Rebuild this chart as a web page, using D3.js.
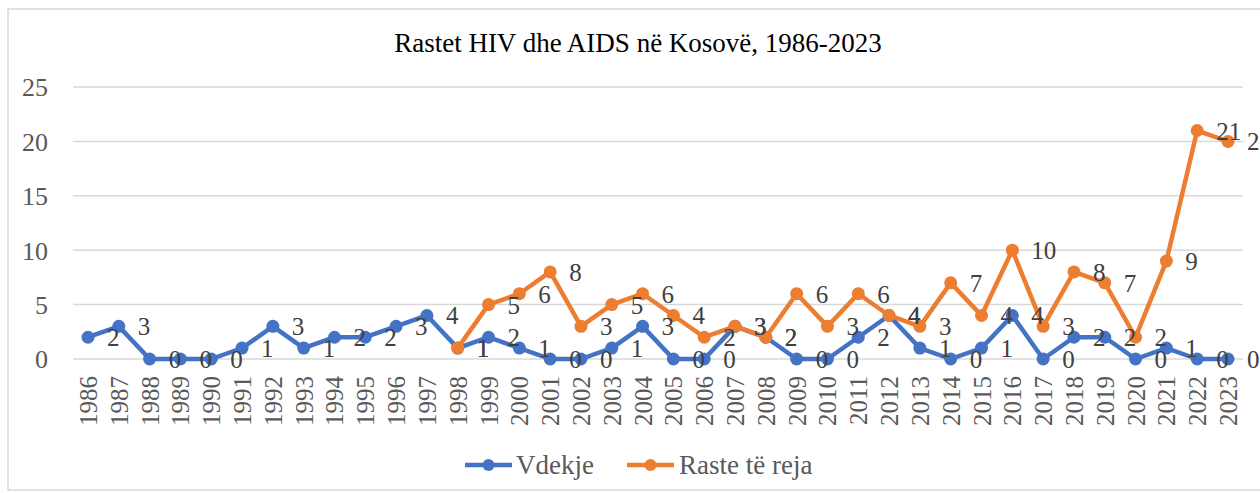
<!DOCTYPE html>
<html><head><meta charset="utf-8">
<script src="https://cdn.jsdelivr.net/npm/d3@7"></script>
<style>
html,body{margin:0;padding:0;background:#fff;overflow:hidden}
svg text{font-family:"Liberation Serif","Times New Roman",Tinos,"DejaVu Serif",serif !important;}
</style>
</head><body>
<svg id="chart" width="1260" height="493"></svg>
<script>
const years = [1986,1987,1988,1989,1990,1991,1992,1993,1994,1995,1996,1997,1998,1999,2000,2001,2002,2003,2004,2005,2006,2007,2008,2009,2010,2011,2012,2013,2014,2015,2016,2017,2018,2019,2020,2021,2022,2023];
const vdekje = [2,3,0,0,0,1,3,1,2,2,3,4,1,2,1,0,0,1,3,0,0,3,2,0,0,2,4,1,0,1,4,0,2,2,0,1,0,0];
const rasteYears = [1998,1999,2000,2001,2002,2003,2004,2005,2006,2007,2008,2009,2010,2011,2012,2013,2014,2015,2016,2017,2018,2019,2020,2021,2022,2023];
const rasteTeReja = [1,5,6,8,3,5,6,4,2,3,2,6,3,6,4,3,7,4,10,3,8,7,2,9,21,20];
const yTicks = [0,5,10,15,20,25];
const title = "Rastet HIV dhe AIDS në Kosovë, 1986-2023";
const seriesNames = ["Vdekje","Raste të reja"];
const colors = ["#4472C4","#ED7D31"];

const svg = d3.select("#chart");

svg.append("rect").attr("x",8).attr("y",9).attr("width",1270).attr("height",481)
  .attr("fill","#fff").attr("stroke","#d9d9d9").attr("stroke-width",1.5);

const x = d3.scalePoint().domain(years).range([72.6,1243.4]).padding(0.5);
const y = d3.scaleLinear().domain([0,25]).range([359,87]);

// gridlines
svg.append("g").selectAll("line").data(yTicks).join("line")
  .attr("x1",73).attr("x2",1243).attr("y1",d=>y(d)).attr("y2",d=>y(d))
  .attr("stroke","#d9d9d9").attr("stroke-width",1.5);

// y axis labels
const yAxis = d3.axisLeft(y).tickValues(yTicks).tickSize(0).tickPadding(0);
const gy = svg.append("g").attr("transform","translate(48,0)").call(yAxis);
gy.select(".domain").remove();
gy.selectAll("text").attr("font-size",26).attr("fill","#595959")
  .attr("dy","0.34em");

// x axis labels
const xAxis = d3.axisBottom(x).tickSize(0).tickPadding(0);
const gx = svg.append("g").attr("transform","translate(0,376)").call(xAxis);
gx.select(".domain").remove();
gx.selectAll("text").attr("font-size",25).attr("fill","#595959")
  .attr("transform","rotate(-90)").attr("text-anchor","end")
  .attr("x",0).attr("y",0).attr("dy","0.34em");

// title
svg.append("text").attr("x",638).attr("y",52).attr("text-anchor","middle")
  .attr("font-size",27).attr("fill","#000").text(title);

const line = d3.line().x(d=>x(d.year)).y(d=>y(d.v));
const s1 = years.map((yr,i)=>({year:yr,v:vdekje[i]}));
const s2 = rasteYears.map((yr,i)=>({year:yr,v:rasteTeReja[i]}));
const series = [s1,s2];

series.forEach((s,k)=>{
  svg.append("path").datum(s).attr("d",line).attr("fill","none")
    .attr("stroke",colors[k]).attr("stroke-width",4.5).attr("stroke-linejoin","round");
  svg.append("g").selectAll("circle").data(s).join("circle")
    .attr("cx",d=>x(d.year)).attr("cy",d=>y(d.v)).attr("r",6.5).attr("fill",colors[k]);
});
series.forEach((s,k)=>{
  svg.append("g").selectAll("text").data(s).join("text")
    .attr("x",d=>x(d.year)+19).attr("y",d=>y(d.v)).attr("dy","0.36em")
    .attr("font-size",25).attr("fill","#404040")
    .text(d=>d.v);
});

// legend
const leg = [{x0:465,tx:516},{x0:627,tx:679}];
leg.forEach((l,k)=>{
  svg.append("line").attr("x1",l.x0).attr("x2",l.x0+47).attr("y1",465).attr("y2",465)
    .attr("stroke",colors[k]).attr("stroke-width",4.5);
  svg.append("circle").attr("cx",l.x0+23.5).attr("cy",465).attr("r",6).attr("fill",colors[k]);
  svg.append("text").attr("x",l.tx).attr("y",474).attr("font-size",27)
    .attr("fill","#595959").text(seriesNames[k]);
});
</script>
</body></html>
